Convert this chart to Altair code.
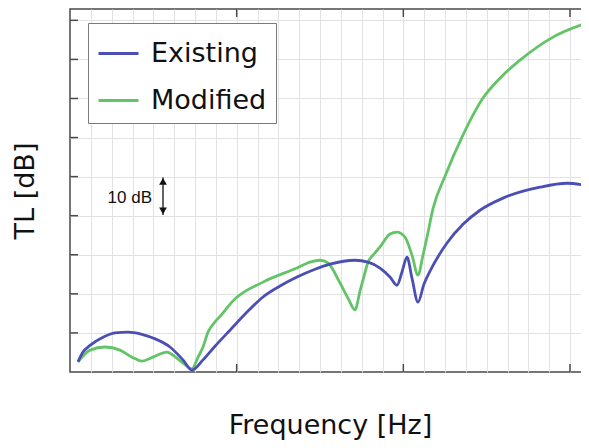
import altair as alt
import pandas as pd

series_names = ["Existing", "Modified"]
series_colors = ["#4b4fb4", "#62c466"]

existing_freq = [48, 78, 120, 198, 270, 348, 426, 498, 600, 678, 732, 798, 870, 960, 1080, 1158,
                 1260, 1362, 1470, 1560, 1710, 1788, 1860, 1920, 1962, 1992, 2022, 2052, 2088,
                 2124, 2160, 2262, 2358, 2460, 2598, 2820, 2982, 3114]
existing_tl = [2.6, 5.1, 6.8, 8.9, 10.0, 10.2, 9.7, 8.7, 6.4, 3.1, 0.5, 3.1, 6.6, 10.7, 16.1, 19.2,
               22.0, 24.3, 26.3, 27.6, 28.6, 28.1, 26.6, 24.3, 22.2, 25.6, 29.4, 24.0, 17.9,
               22.5, 25.8, 33.0, 37.8, 41.4, 44.5, 47.3, 48.3, 47.6]

modified_freq = [48, 120, 210, 300, 372, 432, 498, 582, 618, 678, 732, 768, 798, 828, 870, 912,
                 978, 1158, 1362, 1440, 1500, 1548, 1620, 1668, 1710, 1740, 1764, 1788, 1824,
                 1860, 1920, 1962, 2010, 2052, 2088, 2118, 2142, 2178, 2250, 2352, 2478, 2580,
                 2700, 2898, 3114]
modified_tl = [2.6, 5.6, 6.4, 5.6, 3.8, 2.8, 3.8, 5.1, 4.3, 2.3, 0.8, 3.8, 6.4, 10.2, 12.8, 14.8,
               18.2, 23.0, 26.6, 28.1, 28.6, 27.9, 22.8, 18.9, 15.9, 20.7, 24.5, 28.1, 30.2,
               32.0, 35.3, 35.8, 34.5, 29.9, 24.8, 29.9, 34.5, 41.8, 50.1, 60.1, 70.1, 75.2,
               79.8, 85.7, 89.5]

x_major_ticks = [1000, 2000, 3000]
y_major_ticks = [10, 20, 30, 40, 50, 60, 70, 80, 90]
x_grid_values = [125 * i for i in range(1, 25)]
y_grid_values = [10, 20, 30, 40, 50, 60, 70, 80, 90]

arrow_freq = [558]
arrow_low = [40.2]
arrow_high = [49.8]
note_freq = [492]
note_tl = [44.6]
note_text = ["10 dB"]

X_DOMAIN = [0, 3120]
Y_DOMAIN = [0, 92.9]
W, H = 520, 363
AXIS_COLOR = "#4a4a4a"
TICK_LEN = 8

rows = []
for f, v in zip(existing_freq, existing_tl):
    rows.append({"series": "Existing", "freq": f, "tl": v})
for f, v in zip(modified_freq, modified_tl):
    rows.append({"series": "Modified", "freq": f, "tl": v})
df = pd.DataFrame(rows)

xs = alt.Scale(domain=X_DOMAIN, nice=False, zero=False)
ys = alt.Scale(domain=Y_DOMAIN, nice=False, zero=False)
color_scale = alt.Scale(domain=series_names, range=series_colors)

legend = alt.Legend(
    title=None, orient="none", legendX=18, legendY=14, direction="vertical",
    symbolType="stroke", symbolSize=1600, symbolStrokeWidth=3, symbolOpacity=1,
    labelFontSize=27, labelFont="DejaVu Sans", labelColor="#111111", labelOffset=11,
    labelLimit=400, padding=9, rowPadding=12, strokeColor="#7a7a7a", fillColor="white",
    cornerRadius=0,
)

x_axis = alt.Axis(values=x_grid_values, grid=True, labels=False, ticks=False, domain=False,
                  title="Frequency [Hz]", titleFont="DejaVu Sans", titleFontSize=27,
                  titleFontWeight="normal", titleColor="#111111", titlePadding=40,
                  gridColor="#e2e2e2", gridWidth=1)
y_axis = alt.Axis(values=y_grid_values, grid=True, labels=False, ticks=False, domain=False,
                  title="TL [dB]", titleFont="DejaVu Sans", titleFontSize=27,
                  titleFontWeight="normal", titleColor="#111111", titlePadding=31,
                  gridColor="#e2e2e2", gridWidth=1)


def X(field):
    return alt.X(field, scale=xs, axis=x_axis)


def Y(field):
    return alt.Y(field, scale=ys, axis=y_axis)


base = alt.Chart(df)
green = base.transform_filter(alt.datum.series == "Modified").mark_line(
    strokeWidth=2.8, interpolate="monotone").encode(
    x=X("freq:Q"), y=Y("tl:Q"),
    color=alt.Color("series:N", scale=color_scale, legend=legend),
)
blue = base.transform_filter(alt.datum.series == "Existing").mark_line(
    strokeWidth=2.8, interpolate="monotone").encode(
    x=X("freq:Q"), y=Y("tl:Q"),
    color=alt.Color("series:N", scale=color_scale, legend=legend),
)

ydf = pd.DataFrame({"freq": [0] * len(y_major_ticks), "tl": y_major_ticks})
xdf = pd.DataFrame({"freq": x_major_ticks, "tl": [0] * len(x_major_ticks)})
tick_style = dict(color=AXIS_COLOR, strokeWidth=1.5)
left_ticks = alt.Chart(ydf).mark_rule(**tick_style).encode(
    y=Y("tl:Q"), x=alt.value(0), x2=alt.value(TICK_LEN))
right_ticks = alt.Chart(ydf).mark_rule(**tick_style).encode(
    y=Y("tl:Q"), x=alt.value(W - TICK_LEN), x2=alt.value(W))
bottom_ticks = alt.Chart(xdf).mark_rule(**tick_style).encode(
    x=X("freq:Q"), y=alt.value(H - TICK_LEN), y2=alt.value(H))
top_ticks = alt.Chart(xdf).mark_rule(**tick_style).encode(
    x=X("freq:Q"), y=alt.value(0), y2=alt.value(TICK_LEN))

adf = pd.DataFrame({"freq": arrow_freq, "tl": arrow_low, "hi": arrow_high})
arrow_shaft = alt.Chart(adf).mark_rule(color="#111111", strokeWidth=1.3).encode(
    x=X("freq:Q"), y=Y("tl:Q"), y2="hi:Q")
arrow_up = alt.Chart(adf).mark_point(shape="triangle-up", filled=True, color="#111111",
                                     size=60, opacity=1, yOffset=4).encode(
    x=X("freq:Q"), y=Y("hi:Q"))
arrow_down = alt.Chart(adf).mark_point(shape="triangle-down", filled=True, color="#111111",
                                       size=60, opacity=1, yOffset=-4).encode(
    x=X("freq:Q"), y=Y("tl:Q"))
ndf = pd.DataFrame({"freq": note_freq, "tl": note_tl, "t": note_text})
note = alt.Chart(ndf).mark_text(align="right", baseline="middle", font="Liberation Sans",
                                fontSize=17, color="#111111").encode(
    x=X("freq:Q"), y=Y("tl:Q"), text="t:N")

chart = alt.layer(
    green, blue, left_ticks, right_ticks, bottom_ticks, top_ticks,
    arrow_shaft, arrow_up, arrow_down, note,
).properties(
    width=W, height=H,
    autosize=alt.AutoSizeParams(type="none"),
    padding={"left": 62, "top": 1, "right": -9, "bottom": 68},
    background="white",
).configure_view(stroke=AXIS_COLOR, strokeWidth=1.5)

chart.save("out.html", embed_options={"renderer": "svg", "actions": False})
